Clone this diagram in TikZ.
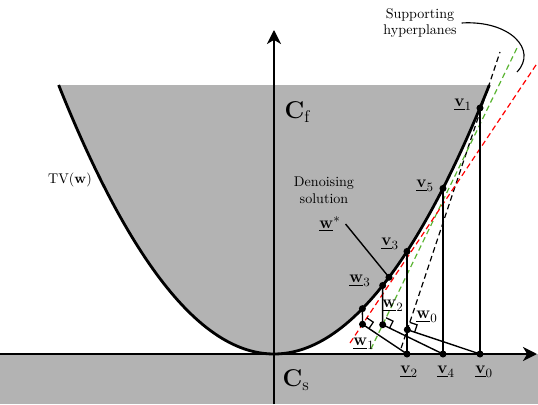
\documentclass[tikz,border=0pt]{standalone}
\usepackage{amsmath,amssymb,bm}
\usepackage{tikz}
\usetikzlibrary{calc,arrows.meta}
\definecolor{regiongray}{RGB}{179,179,179}
\definecolor{planegreen}{RGB}{90,180,50}

\begin{document}
\begin{tikzpicture}[scale=1.0, every node/.style={font=\normalsize},
  curveline/.style={line width=2pt},
  axisline/.style={line width=1.3pt,-{Stealth[length=10pt,width=10pt,inset=3pt]}},
  projline/.style={line width=1pt},
  markline/.style={line width=0.9pt},
  planeline/.style={line width=0.85pt,dash pattern=on 4pt off 2.5pt},
  vlabel/.style={font=\fontsize{13}{15}\selectfont}]
\useasboundingbox (-6.85,-1.25) rectangle (6.6,8.85);

\coordinate (v0) at (5.15,0);
\coordinate (v1) at (5.15,6.15);
\coordinate (v2) at (3.325,0);
\coordinate (v3) at (3.325,2.565);
\coordinate (v4) at (4.225,0);
\coordinate (v5) at (4.225,4.14);
\coordinate (ws) at (2.875,1.918);
\coordinate (w3) at (2.717,1.713);
\coordinate (pc) at (2.21,1.133);

\coordinate (hb1) at (3.18,0.15);
\coordinate (hb2) at (5.65,7.55);
\coordinate (hg1) at (2.42,0.12);
\coordinate (hg2) at (6.075,7.65);
\coordinate (hr1) at (1.9,0.275);
\coordinate (hr2) at (6.6,7.3);

\coordinate (w0) at ($(hb1)!(v0)!(hb2)$);
\coordinate (w1) at ($(hr1)!(v2)!(hr2)$);
\coordinate (w2) at ($(hg1)!(v4)!(hg2)$);

\fill[regiongray] plot[domain=-5.384:5.384,samples=120] (\x,{0.232*\x*\x}) -- cycle;
\fill[regiongray] (-6.85,-1.25) rectangle (6.6,0);

\draw[planeline,black] (hb1) -- (hb2);
\draw[planeline,planegreen] (hg1) -- (hg2);
\draw[planeline,red] (hr1) -- (hr2);

\draw[projline] (v0) -- (v1);
\draw[projline] (v4) -- (v5);
\draw[projline] (v2) -- (v3);
\draw[projline] (w2) -- (w3);
\draw[projline] (w1) -- (pc);
\draw[projline] (v0) -- (w0);
\draw[projline] (v2) -- (w1);
\draw[projline] (v4) -- (w2);

\foreach \p/\q/\r in {w1/v2/hr2, w2/v4/hg2, w0/v0/hb2} {
  \coordinate (ma) at ($(\p)!5.5pt!(\q)$);
  \coordinate (mb) at ($(\p)!5.5pt!(\r)$);
  \draw[markline] (ma) -- ($(ma)+(mb)-(\p)$) -- (mb);
}

\draw[curveline] plot[domain=-5.384:5.384,samples=120] (\x,{0.232*\x*\x});

\draw[axisline] (-6.85,0) -- (6.575,0);
\draw[axisline] (0,-1.25) -- (0,8.1);

\foreach \p in {v0,v1,v2,v3,v4,v5,w0,w1,w2,w3,ws,pc}
  \fill (\p) circle (2.5pt);

\node[vlabel] (lv0) at (5.25,-0.45) {$\underline{\mathbf{v}}_{0}$};
\node[vlabel] (lv1) at (4.725,6.225) {$\underline{\mathbf{v}}_{1}$};
\node[vlabel] (lv2) at (3.375,-0.45) {$\underline{\mathbf{v}}_{2}$};
\node[vlabel] (lv3) at (2.9,2.75) {$\underline{\mathbf{v}}_{3}$};
\node[vlabel] (lv4) at (4.3,-0.45) {$\underline{\mathbf{v}}_{4}$};
\node[vlabel] (lv5) at (3.775,4.2) {$\underline{\mathbf{v}}_{5}$};
\node[vlabel] (lw0) at (3.825,0.925) {$\underline{\mathbf{w}}_{0}$};
\node[vlabel] (lw1) at (2.25,0.25) {$\underline{\mathbf{w}}_{1}$};
\node[vlabel] (lw2) at (2.975,1.2) {$\underline{\mathbf{w}}_{2}$};
\node[vlabel] (lw3) at (2.15,1.825) {$\underline{\mathbf{w}}_{3}$};
\node[vlabel] (lws) at (1.4,3.25) {$\underline{\mathbf{w}}^{*}$};
\draw[projline] (lws.east) -- (ws);

\node[font=\LARGE] (lcf) at (0.6,6.05) {$\mathbf{C}_{\mathrm{f}}$};
\node[font=\LARGE] (lcs) at (0.55,-0.65) {$\mathbf{C}_{\mathrm{s}}$};
\node (ltv) at (-5.1,4.35) {TV($\mathbf{w}$)};
\node[align=center] (lden) at (1.25,4.1) {Denoising\\solution};
\node[align=center] (lsh) at (3.65,8.275) {Supporting\\hyperplanes};
\coordinate (hend) at (6.075,7.05);
\draw[line width=0.8pt] (lsh.east) .. controls (5.9,8.35) and (6.6,7.6) .. (hend);
\end{tikzpicture}
\end{document}
